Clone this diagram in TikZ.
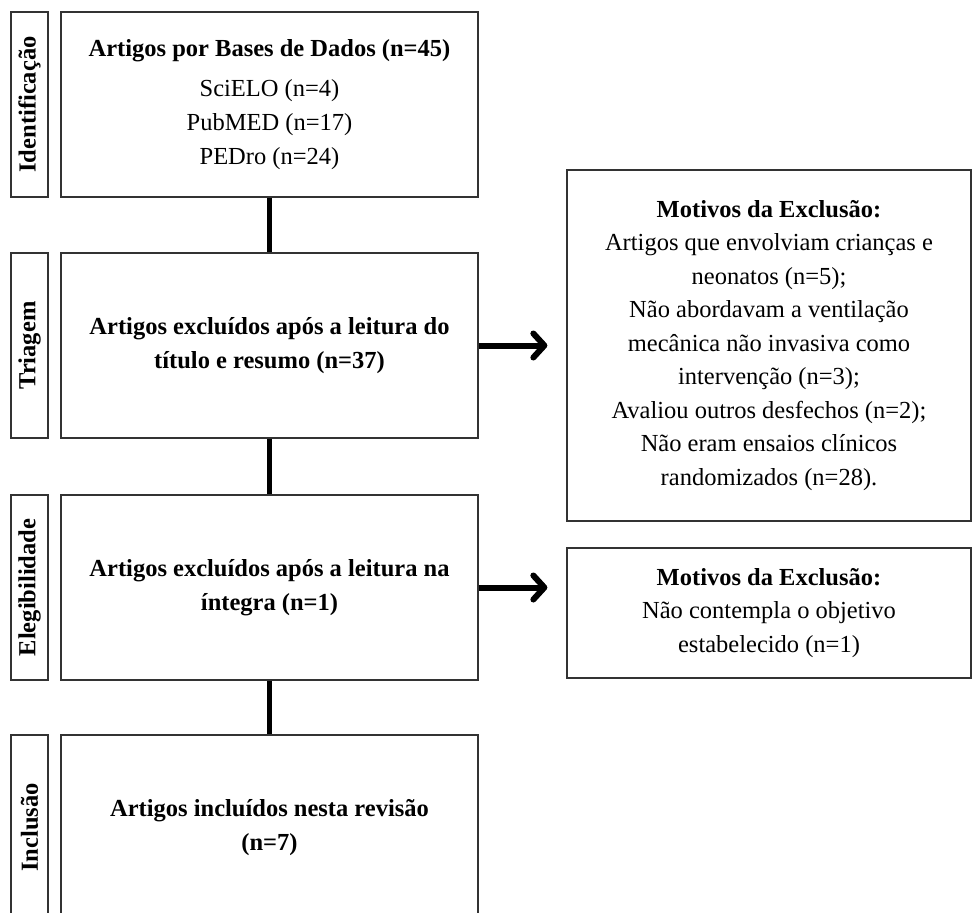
\documentclass[tikz,border=0pt]{standalone}
\usepackage{fontspec}
\setmainfont{Liberation Serif}
\usetikzlibrary{arrows.meta}
\begin{document}
\begin{tikzpicture}[x=1pt,y=-1pt,
  boxline/.style={draw=black!80, line width=1.3pt},
  mainbox/.style={boxline, minimum width=417pt, minimum height=185pt, align=center, inner sep=0pt,
     font=\fontsize{24.5}{34}\selectfont\bfseries},
  labbox/.style={boxline, rotate=90, minimum width=185pt, minimum height=37pt, inner sep=0pt,
     font=\fontsize{24.5}{28}\selectfont\bfseries},
  sidebox/.style={boxline, minimum width=404pt, align=center, inner sep=0pt,
     font=\fontsize{24.5}{33.5}\selectfont},
  link/.style={line width=5pt, black},
  flow/.style={line width=6pt, black, -{Straight Barb[length=11pt, width=24pt, line cap=round, line join=round]}, line cap=butt}
]
\useasboundingbox (0,0) rectangle (973,912);
\clip (0,0) rectangle (973,912);

% left stage labels
\node[labbox] (l1) at (29.5,104.5) {Identificação};
\node[labbox] (l2) at (29.5,345.5) {Triagem};
\node[labbox] (l3) at (29.5,587.5) {Elegibilidade};
\node[labbox] (l4) at (29.5,827.5) {Inclusão};

% main boxes
\node[mainbox] (m1) at (269.5,104.5) {Artigos por Bases de Dados (n=45)\\[6pt]
  {\mdseries SciELO (n=4)}\\ {\mdseries PubMED (n=17)}\\ {\mdseries PEDro (n=24)}};
\node[mainbox] (m2) at (269.5,345.5) {Artigos excluídos após a leitura do\\título e resumo (n=37)};
\node[mainbox] (m3) at (269.5,587.5) {Artigos excluídos após a leitura na\\íntegra (n=1)};
\node[mainbox] (m4) at (269.5,827.5) {Artigos incluídos nesta revisão\\(n=7)};

% side boxes
\node[sidebox, minimum height=351pt] (s1) at (769,345.5) {\textbf{Motivos da Exclusão:}\\
  Artigos que envolviam crianças e\\ neonatos (n=5);\\ Não abordavam a ventilação\\
  mecânica não invasiva como\\ intervenção (n=3);\\ Avaliou outros desfechos (n=2);\\
  Não eram ensaios clínicos\\ randomizados (n=28).};
\node[sidebox, minimum height=130pt] (s2) at (769,613) {\textbf{Motivos da Exclusão:}\\
  Não contempla o objetivo\\ estabelecido (n=1)};

% connectors
\draw[link] (m1.south) -- (m2.north);
\draw[link] (m2.south) -- (m3.north);
\draw[link] (m3.south) -- (m4.north);

\coordinate (a2) at (m3.east -| s2.west);
\draw[flow, shorten >=19pt] (m2.east) -- (s1.west);
\draw[flow, shorten >=19pt] (m3.east) -- (a2);
\end{tikzpicture}
\end{document}
